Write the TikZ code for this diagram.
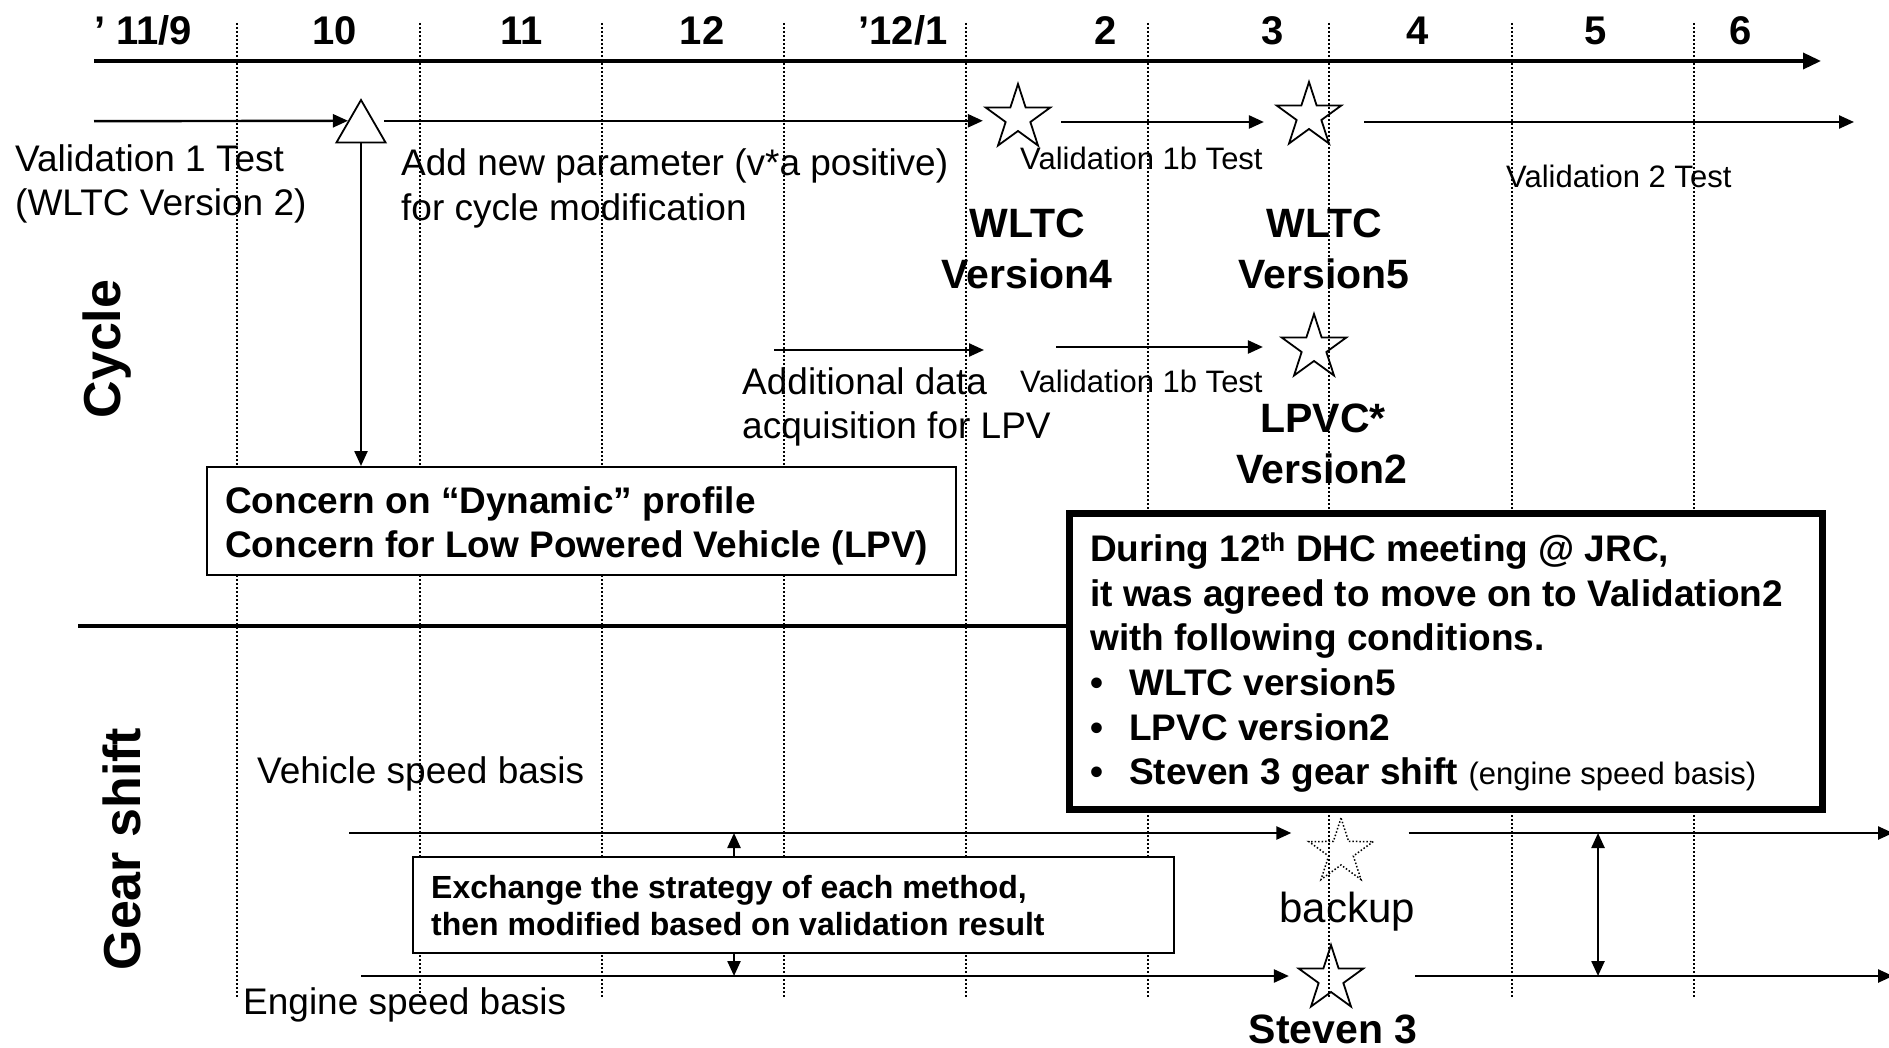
\documentclass[tikz,border=0pt]{standalone}
\usepackage{fontspec}
\setmainfont{Liberation Sans}
\usetikzlibrary{arrows.meta,shapes.geometric}
\newcommand\fsz[1]{\fontsize{#1}{#1}\selectfont}
\begin{document}
\begin{tikzpicture}[x=1pt,y=-1pt,
  arr/.style={line width=2.4pt,-{Triangle[length=15pt,width=13pt]}},
  darr/.style={line width=2.4pt,{Triangle[length=15pt,width=13pt]}-{Triangle[length=15pt,width=13pt]}},
  axis/.style={line width=3.5pt,-{Triangle[length=18pt,width=16pt]}},
  grid/.style={line width=1.3pt, dash pattern=on 2pt off 2pt},
  starnode/.style={star, star points=5, star point ratio=2.618, minimum size=68pt, inner sep=0pt, draw, line width=1.8pt},
  txt/.style={inner sep=0pt, anchor=base west, font=\fsz{37}},
  small/.style={inner sep=0pt, anchor=base west, font=\fsz{31}},
  month/.style={inner sep=0pt, anchor=base, font=\bfseries\fsz{40}},
  big/.style={inner sep=0pt, anchor=base, font=\bfseries\fsz{41}},
  boxt/.style={inner sep=0pt, anchor=base west, font=\bfseries\fsz{37}},
  exct/.style={inner sep=0pt, anchor=base west, font=\bfseries\fsz{32}},
  side/.style={inner sep=0pt, anchor=base, rotate=90, font=\bfseries\fsz{52}},
  thinbox/.style={draw, fill=white, line width=2pt, inner sep=0pt},
]
\fill[white] (0,0) rectangle (1889,1048);
\useasboundingbox (0,0) rectangle (1889,1048);

% dotted month separators
\foreach \x in {237,420,602,784,966,1148,1329,1512,1694}
  \draw[grid] (\x,23) -- (\x,997);

% time axis
\coordinate (ax0) at (94,61);
\coordinate (ax1) at (1821,61);
\draw[axis] (ax0) -- (ax1);

\node[inner sep=0pt, anchor=base west, font=\bfseries\fsz{40}] (m0) at (94,45) {’ 11/9};
\node[month] (m1) at (335,45) {10};
\node[month] (m2) at (522,45) {11};
\node[month] (m3) at (702,45) {12};
\node[month] (m4) at (903,45) {’12/1};
\node[month] (m5) at (1106,45) {2};
\node[month] (m6) at (1273,45) {3};
\node[month] (m7) at (1418,45) {4};
\node[month] (m8) at (1596,45) {5};
\node[month] (m9) at (1741,45) {6};

% side labels
\node[side] (cyc) at (120,349) {Cycle};
\node[side] (gsh) at (140,849) {Gear shift};

% ---- cycle row 1
\node[regular polygon, regular polygon sides=3, minimum size=56.6pt, inner sep=0pt, draw, line width=1.8pt] (tri) at (361,128.3) {};
\node[starnode] (st1) at (1018,118) {};
\node[starnode] (st2) at (1309,116) {};
\coordinate (r1s) at (94,121.2);
\coordinate (r1b) at (0,122);
\coordinate (r1e) at (1854,122);
\draw[arr] (r1s) -- (tri.side 1);
\draw[arr, shorten <=10pt] (tri.side 3) -- (tri.side 3 -| st1.outer point 2);
\draw[arr, shorten <=8pt, shorten >=10pt] (st1.outer point 5 |- r1b) -- (st2.outer point 2 |- r1b);
\draw[arr, shorten <=20pt] (st2.outer point 5 |- r1b) -- (r1e);

\node[txt] (v1a) at (15,172) {Validation 1 Test};
\node[txt] (v1b) at (15,216) {(WLTC Version 2)};
\node[txt] (np1) at (401,176) {Add new parameter (v*a positive)};
\node[txt] (np2) at (401,221) {for cycle modification};
\node[small] (vb1) at (1020,170) {Validation 1b Test};
\node[small] (v2t) at (1506,188) {Validation 2 Test};
\node[big] (w4a) at (1027,238) {WLTC};
\node[big] (w4b) at (1027,289) {Version4};
\node[big] (w5a) at (1324,238) {WLTC};
\node[big] (w5b) at (1324,289) {Version5};

% ---- cycle row 2
\node[starnode] (st3) at (1314,348) {};
\coordinate (r2s) at (774,350);
\coordinate (r2e) at (984,350);
\coordinate (r2b) at (1056,347);
\draw[arr] (r2s) -- (r2e);
\draw[arr, shorten >=16pt] (r2b) -- (r2b -| st3.outer point 2);
\node[txt] (ad1) at (742,394) {Additional data};
\node[txt] (ad2) at (742,438) {acquisition for LPV};
\node[small] (vb2) at (1020,392) {Validation 1b Test};
\node[big] (lp1) at (1323,432) {LPVC*};
\node[big] (lp2) at (1322,483) {Version2};

% concern box
\node[thinbox, minimum width=749pt, minimum height=108pt] (concern) at (581.5,521) {};
\draw[arr] (tri.south) -- (tri.south |- concern.north);
\node[boxt] (cc1) at (225,513) {Concern on “Dynamic” profile};
\node[boxt] (cc2) at (225,557) {Concern for Low Powered Vehicle (LPV)};

% separator and DHC box
\coordinate (sepL) at (78,626);
\node[draw, fill=white, line width=7pt, inner sep=0pt, minimum width=753pt, minimum height=296pt] (dhc) at (1446,661.5) {};
\draw[line width=3.3pt] (sepL) -- (sepL -| dhc.west);
\node[boxt] (d1) at (1090,561) {During 12\textsuperscript{th} DHC meeting @ JRC,};
\node[boxt] (d2) at (1090,606) {it was agreed to move on to Validation2};
\node[boxt] (d3) at (1090,650) {with following conditions.};
\node[boxt] (b4) at (1090,695) {•};
\node[boxt] (d4) at (1129,695) {WLTC version5};
\node[boxt] (b5) at (1090,740) {•};
\node[boxt] (d5) at (1129,740) {LPVC version2};
\node[boxt] (b6) at (1090,784) {•};
\node[boxt] (d6) at (1129,784) {Steven 3 gear shift {\mdseries\fsz{31}(engine speed basis)}};

% ---- gear shift rows
\node[txt] (vsb) at (257,783) {Vehicle speed basis};
\node[txt] (esb) at (243,1014) {Engine speed basis};
\node[starnode, dash pattern=on 1.5pt off 2pt, line width=1.5pt] (bk) at (1341,852) {};
\node[starnode] (s3) at (1331,979) {};
\node[inner sep=0pt, anchor=base, font=\fsz{42}] (bkt) at (1347,922) {backup};
\node[big] (s3t) at (1333,1043) {Steven 3};

\coordinate (gA) at (349,833);
\coordinate (gAe) at (1893,833);
\coordinate (gB) at (361,976);
\coordinate (gBe) at (1893,976);
\draw[arr, shorten >=15pt] (gA) -- (gA -| bk.outer point 2);
\draw[arr, shorten <=33pt] (bk.outer point 5 |- gA) -- (gAe);
\draw[arr, shorten >=7pt] (gB) -- (gB -| s3.outer point 2);
\draw[arr, shorten <=49pt] (s3.outer point 5 |- gB) -- (gBe);
\coordinate (dx) at (1598,0);
\draw[darr] (dx |- gA) -- (dx |- gB);

\node[thinbox, minimum width=761pt, minimum height=96pt] (exb) at (793.5,905) {};
\node[exct] (ex1) at (431,898) {Exchange the strategy of each method,};
\node[exct] (ex2) at (431,935) {then modified based on validation result};
\coordinate (exa) at (734,0);
\draw[arr] (exb.north -| exa) -- (exa |- gA);
\draw[arr] (exb.south -| exa) -- (exa |- gB);
\end{tikzpicture}
\end{document}
